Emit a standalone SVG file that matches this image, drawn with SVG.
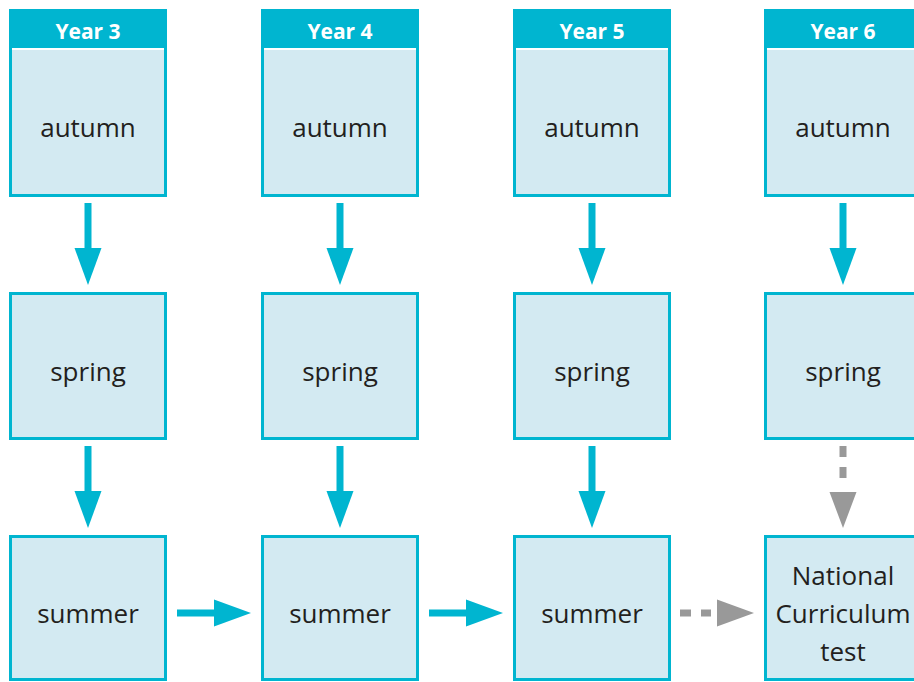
<svg xmlns="http://www.w3.org/2000/svg" width="914" height="682" viewBox="0 0 914 682">
<style>
.box{fill:#d3eaf2;stroke:#00b5d0;stroke-width:3}
.hdr{fill:#00b5d0}
.sep{stroke:#ffffff;stroke-width:2}
.ht{font-family:"Open Sans","Liberation Sans",sans-serif;font-weight:bold;font-size:21px;fill:#ffffff;text-anchor:middle}
.t{font-family:"Open Sans","Liberation Sans",sans-serif;font-size:26px;fill:#231f20;text-anchor:middle}
.ar{fill:#00b5d0}
.sh{stroke:#00b5d0;stroke-width:7}
.ga{fill:#999999}
.gs{stroke:#999999;stroke-width:7;stroke-dasharray:11 10}
</style>
<rect width="914" height="682" fill="#ffffff"/>
<g id="y3-autumn"><rect class="box" x="10.5" y="10.5" width="155" height="185"/><rect class="hdr" x="10.5" y="10.5" width="155" height="38"/><line class="sep" x1="12" y1="49" x2="164" y2="49"/><text class="ht" x="88" y="39">Year 3</text><text class="t" x="88" y="137">autumn</text></g>
<g id="y4-autumn"><rect class="box" x="262.5" y="10.5" width="155" height="185"/><rect class="hdr" x="262.5" y="10.5" width="155" height="38"/><line class="sep" x1="264" y1="49" x2="416" y2="49"/><text class="ht" x="340" y="39">Year 4</text><text class="t" x="340" y="137">autumn</text></g>
<g id="y5-autumn"><rect class="box" x="514.5" y="10.5" width="155" height="185"/><rect class="hdr" x="514.5" y="10.5" width="155" height="38"/><line class="sep" x1="516" y1="49" x2="668" y2="49"/><text class="ht" x="592" y="39">Year 5</text><text class="t" x="592" y="137">autumn</text></g>
<g id="y6-autumn"><rect class="box" x="765.5" y="10.5" width="155" height="185"/><rect class="hdr" x="765.5" y="10.5" width="155" height="38"/><line class="sep" x1="767" y1="49" x2="919" y2="49"/><text class="ht" x="843" y="39">Year 6</text><text class="t" x="843" y="137">autumn</text></g>
<g id="y3-spring"><rect class="box" x="10.5" y="293.5" width="155" height="145"/><text class="t" x="88" y="381">spring</text></g>
<g id="y4-spring"><rect class="box" x="262.5" y="293.5" width="155" height="145"/><text class="t" x="340" y="381">spring</text></g>
<g id="y5-spring"><rect class="box" x="514.5" y="293.5" width="155" height="145"/><text class="t" x="592" y="381">spring</text></g>
<g id="y6-spring"><rect class="box" x="765.5" y="293.5" width="155" height="145"/><text class="t" x="843" y="381">spring</text></g>
<g id="y3-summer"><rect class="box" x="10.5" y="536.5" width="155" height="143"/><text class="t" x="88" y="623">summer</text></g>
<g id="y4-summer"><rect class="box" x="262.5" y="536.5" width="155" height="143"/><text class="t" x="340" y="623">summer</text></g>
<g id="y5-summer"><rect class="box" x="514.5" y="536.5" width="155" height="143"/><text class="t" x="592" y="623">summer</text></g>
<g id="nc-test"><rect class="box" x="765.5" y="536.5" width="155" height="143"/><text class="t" x="843" y="585">National</text><text class="t" x="843" y="623">Curriculum</text><text class="t" x="843" y="661">test</text></g>
<g id="connectors">
<line class="sh" x1="88" y1="203" x2="88" y2="250"/><path class="ar" d="M74.5 248H101.5L88 285Z"/>
<line class="sh" x1="340" y1="203" x2="340" y2="250"/><path class="ar" d="M326.5 248H353.5L340 285Z"/>
<line class="sh" x1="592" y1="203" x2="592" y2="250"/><path class="ar" d="M578.5 248H605.5L592 285Z"/>
<line class="sh" x1="843" y1="203" x2="843" y2="250"/><path class="ar" d="M829.5 248H856.5L843 285Z"/>
<line class="sh" x1="88" y1="446" x2="88" y2="493"/><path class="ar" d="M74.5 491H101.5L88 528Z"/>
<line class="sh" x1="340" y1="446" x2="340" y2="493"/><path class="ar" d="M326.5 491H353.5L340 528Z"/>
<line class="sh" x1="592" y1="446" x2="592" y2="493"/><path class="ar" d="M578.5 491H605.5L592 528Z"/>
<line class="gs" x1="843" y1="446" x2="843" y2="481"/><path class="ga" d="M829.5 492H856.5L843 528Z"/>
<line class="sh" x1="177" y1="613" x2="216" y2="613"/><path class="ar" d="M214 599.5V626.5L251 613Z"/>
<line class="sh" x1="429" y1="613" x2="468" y2="613"/><path class="ar" d="M466 599.5V626.5L503 613Z"/>
<line class="gs" x1="680" y1="613" x2="711" y2="613"/><path class="ga" d="M717 599.5V626.5L754 613Z"/>
</g>
</svg>
